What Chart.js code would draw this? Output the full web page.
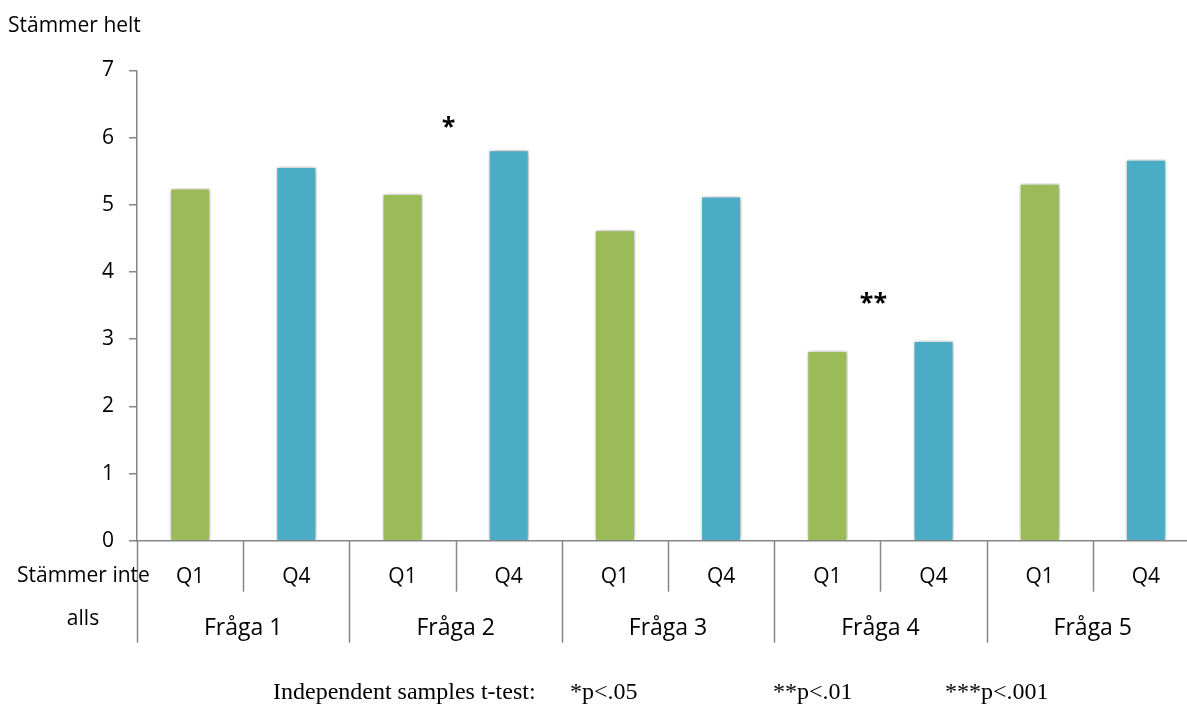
<!DOCTYPE html>
<html>
<head>
<meta charset="utf-8">
<script src="https://cdn.jsdelivr.net/npm/chart.js@4/dist/chart.umd.min.js"></script>
<style>
  html, body { margin: 0; padding: 0; background: #ffffff; overflow: hidden; width: 1187px; height: 704px; }
  #wrap { position: absolute; left: 0; top: 0; width: 1200px; height: 704px; }
</style>
</head>
<body>
<div id="wrap"><canvas id="c" width="1200" height="704"></canvas></div>
<script>
// Mean agreement per question, first vs. fourth quarter
const periods = ['Q1', 'Q4'];
const questions = ['Fråga 1', 'Fråga 2', 'Fråga 3', 'Fråga 4', 'Fråga 5'];
const q1Values = [5.25, 5.17, 4.63, 2.83, 5.32];
const q4Values = [5.57, 5.82, 5.13, 2.98, 5.68];
const significance = ['', '*', '', '**', ''];
const significanceLevel = [null, 6.23, null, 3.62, null];
const yMin = 0, yMax = 7, yStep = 1;
const topLabel = 'Stämmer helt';
const bottomLabel = ['Stämmer inte', 'alls'];
const footnote = ['Independent samples t-test:', '*p<.05', '**p<.01', '***p<.001'];

const GREEN = '#9BBB59';
const BLUE = '#4BACC6';
const AXIS = '#868686';
const FONT = '"Open Sans", Lato, sans-serif';

// one slot per bar: Q1/Q4 alternating under each question
const slots = [];
questions.forEach(() => periods.forEach(p => slots.push(p)));
const q1Data = slots.map((p, i) => p === 'Q1' ? q1Values[i >> 1] : null);
const q4Data = slots.map((p, i) => p === 'Q4' ? q4Values[i >> 1] : null);

const barShadow = {
  id: 'barShadow',
  beforeDatasetDraw(chart) {
    const ctx = chart.ctx;
    ctx.save();
    ctx.shadowColor = 'rgba(0,0,0,0.35)';
    ctx.shadowBlur = 6;
    ctx.shadowOffsetX = 1;
    ctx.shadowOffsetY = 0;
  },
  afterDatasetDraw(chart) {
    chart.ctx.restore();
  }
};

const categoryAxis = {
  id: 'categoryAxis',
  afterDraw(chart) {
    const ctx = chart.ctx;
    const x = chart.scales.x;
    const y = chart.scales.y;
    const base = y.getPixelForValue(0);
    const step = x.getPixelForValue(1) - x.getPixelForValue(0);
    const rowMid = base + 51;
    const rowEnd = base + 102;

    ctx.save();
    ctx.strokeStyle = AXIS;
    ctx.lineWidth = 1.5;
    for (let i = 0; i <= slots.length; i++) {
      const px = Math.round(x.getPixelForValue(i) - step / 2) + 0.5;
      const long = i % 2 === 0;
      ctx.beginPath();
      ctx.moveTo(px, base);
      ctx.lineTo(px, long ? rowEnd : rowMid);
      ctx.stroke();
    }

    ctx.fillStyle = '#000';
    ctx.textAlign = 'center';
    ctx.textBaseline = 'alphabetic';
    ctx.font = '21px ' + FONT;
    slots.forEach((p, i) => ctx.fillText(p, x.getPixelForValue(i), base + 42));
    ctx.font = '23px ' + FONT;
    questions.forEach((q, g) => {
      const cx = (x.getPixelForValue(2 * g) + x.getPixelForValue(2 * g + 1)) / 2;
      ctx.fillText(q, cx, base + 94);
    });

    // significance markers above each pair
    ctx.font = 'bold 25px ' + FONT;
    significance.forEach((s, g) => {
      if (!s) return;
      const cx = (x.getPixelForValue(2 * g) + x.getPixelForValue(2 * g + 1)) / 2 - 7;
      ctx.fillText(s, cx, y.getPixelForValue(significanceLevel[g]) + 13);
    });

    // scale end descriptions
    ctx.textAlign = 'left';
    ctx.font = '21px ' + FONT;
    ctx.fillText(topLabel, 8, 32);
    ctx.fillText(bottomLabel[0], 17, base + 41);
    ctx.textAlign = 'center';
    ctx.fillText(bottomLabel[1], 83, base + 84);

    // test legend
    ctx.textAlign = 'left';
    ctx.font = '24px "Liberation Serif", "Times New Roman", serif';
    const fx = [273, 570, 773, 945];
    footnote.forEach((t, k) => ctx.fillText(t, fx[k], 699));
    ctx.restore();
  }
};

new Chart(document.getElementById('c'), {
  type: 'bar',
  data: {
    labels: slots,
    datasets: [
      { label: 'Q1', data: q1Data, backgroundColor: GREEN },
      { label: 'Q4', data: q4Data, backgroundColor: BLUE }
    ]
  },
  options: {
    responsive: false,
    animation: false,
    devicePixelRatio: 1,
    layout: { padding: { left: 0, right: 1, top: 70.5, bottom: 0 } },
    datasets: {
      bar: {
        grouped: false,
        skipNull: true,
        barPercentage: 0.386,
        categoryPercentage: 1,
        borderColor: '#ffffff',
        borderWidth: 1.5
      }
    },
    plugins: {
      legend: { display: false },
      tooltip: { enabled: false }
    },
    scales: {
      x: {
        type: 'category',
        offset: true,
        ticks: { display: false },
        grid: { display: false },
        border: { display: true, color: AXIS, width: 1.5 },
        afterFit(scale) { scale.height = 163.3; }
      },
      y: {
        min: yMin,
        max: yMax,
        ticks: {
          stepSize: yStep,
          color: '#000',
          font: { family: FONT, size: 21 },
          padding: 15
        },
        grid: {
          drawOnChartArea: false,
          drawTicks: true,
          tickLength: 8,
          color: AXIS,
          lineWidth: 1.5
        },
        border: { display: true, color: AXIS, width: 1.5 },
        afterFit(scale) { scale.width = 137; }
      }
    }
  },
  plugins: [barShadow, categoryAxis]
});
</script>
</body>
</html>
